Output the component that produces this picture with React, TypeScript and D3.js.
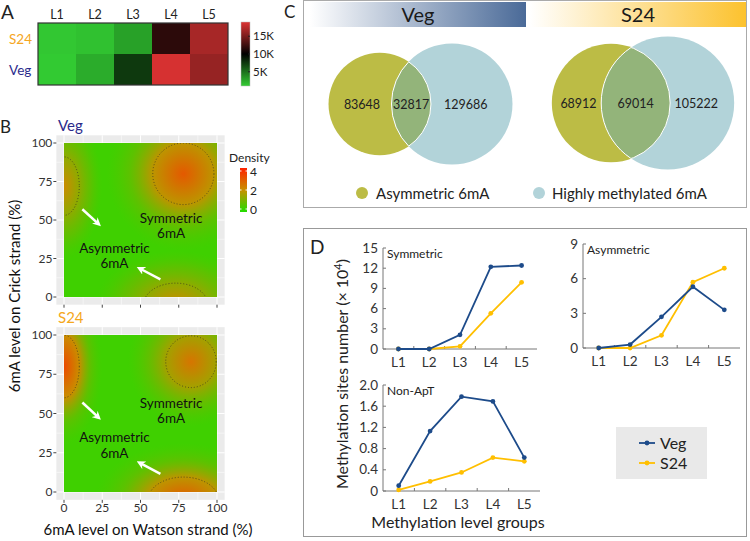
import * as d3 from 'd3';
import { useEffect, useRef } from 'react';

const FONT = 'Lato, "Open Sans", sans-serif';

// ---- A: heatmap of site counts
const levels = ['L1', 'L2', 'L3', 'L4', 'L5'];
const heatRows = ['S24', 'Veg'];
const heatS24 = [1200, 1500, 2900, 11800, 16800];
const heatVeg = [1100, 2400, 7500, 18700, 16100];
const heatTicks = [5000, 10000, 15000];

// ---- B: density hotspots (data units: % Watson, % Crick)
const strandTicks = [0, 25, 50, 75, 100];
const densityTicks = [0, 2, 4];
const vegHotspots = [
    { x: 78, y: 80, rx: 20, ry: 20, peak: 3.0 },
    { x: 0, y: 72, rx: 10, ry: 19, peak: 2.1 },
    { x: 73, y: -5, rx: 21, ry: 14, peak: 2.1 },
];
const s24Hotspots = [
    { x: 83, y: 83, rx: 16.5, ry: 16.5, peak: 2.5 },
    { x: 0, y: 80, rx: 10, ry: 20, peak: 3.3 },
    { x: 78, y: -5, rx: 23, ry: 14.5, peak: 3.0 },
];

// ---- C: Venn counts [asymmetric only, both, highly methylated only]
const vennSets = ['Asymmetric 6mA', 'Highly methylated 6mA'];
const vegVenn = [83648, 32817, 129686];
const s24Venn = [68912, 69014, 105222];

// ---- D: methylation sites (x 10^4)
const symVeg = [0, 0, 2.1, 12.2, 12.4];
const symS24 = [0, 0, 0.4, 5.3, 9.9];
const symTicks = [0, 3, 6, 9, 12, 15];
const asymVeg = [0, 0.3, 2.7, 5.3, 3.3];
const asymS24 = [0, 0, 1.1, 5.7, 6.9];
const asymTicks = [0, 3, 6, 9];
const nonVeg = [0.1, 1.13, 1.78, 1.69, 0.63];
const nonS24 = [0.02, 0.18, 0.35, 0.63, 0.56];
const nonTicks = [0, 0.4, 0.8, 1.2, 1.6, 2.0];

const VEG = '#1d4b8a';
const S24 = '#ffbf00';

type Hot = { x: number; y: number; rx: number; ry: number; peak: number };
type Sel = d3.Selection<SVGGElement, unknown, null, undefined>;

const lensArea = (r1: number, r2: number, d: number) => {
    if (d >= r1 + r2) return 0;
    if (d <= Math.abs(r1 - r2)) return Math.PI * Math.min(r1, r2) ** 2;
    const a1 = Math.acos((d * d + r1 * r1 - r2 * r2) / (2 * d * r1));
    const a2 = Math.acos((d * d + r2 * r2 - r1 * r1) / (2 * d * r2));
    const k = Math.sqrt((-d + r1 + r2) * (d + r1 - r2) * (d - r1 + r2) * (d + r1 + r2));
    return r1 * r1 * a1 + r2 * r2 * a2 - k / 2;
};

export default function App() {
    const svgRef = useRef<SVGSVGElement | null>(null);

    useEffect(() => {
        if (!svgRef.current) return;
        const svg = d3.select(svgRef.current);
        svg.selectAll('*').remove();
        const root = svg.append('g').attr('font-family', FONT) as unknown as Sel;
        const defs = svg.append('defs');

        const txt = (g: Sel, x: number, y: number, s: string, size: number, anchor = 'start', fill = '#222') =>
            g.append('text').attr('x', x).attr('y', y).attr('font-size', size)
                .attr('text-anchor', anchor).attr('fill', fill).text(s);

        // ================= A =================
        txt(root, 1, 19, 'A', 19);
        const hx = d3.scaleBand().domain(levels).range([38, 228]);
        const hy = d3.scaleBand().domain(heatRows).range([23, 85]);
        const heatColor = d3.scaleLinear<string>()
            .domain([1000, 10000, 19000]).range(['#33cc33', '#000000', '#dd3333']).clamp(true);
        const cells = [heatS24, heatVeg];
        heatRows.forEach((row, ri) => {
            levels.forEach((l, ci) => {
                root.append('rect').attr('x', hx(l)!).attr('y', hy(row)!)
                    .attr('width', hx.bandwidth()).attr('height', hy.bandwidth())
                    .attr('fill', heatColor(cells[ri][ci]));
            });
            txt(root, 9, hy(row)! + hy.bandwidth() / 2 + 5, row, 13.5, 'start', row === 'S24' ? '#f5a623' : '#2b2b8c');
        });
        root.append('rect').attr('x', 38).attr('y', 23).attr('width', 190).attr('height', 62)
            .attr('fill', 'none').attr('stroke', '#333').attr('stroke-width', 1.2);
        levels.forEach(l => txt(root, hx(l)! + hx.bandwidth() / 2, 19, l, 12.5, 'middle'));

        const cbY = d3.scaleLinear().domain([1000, 19000]).range([86, 22]);
        const cbGrad = defs.append('linearGradient').attr('id', 'cbar')
            .attr('x1', 0).attr('y1', 1).attr('x2', 0).attr('y2', 0);
        [1000, 10000, 19000].forEach((v, i) => cbGrad.append('stop').attr('offset', i / 2).attr('stop-color', heatColor(v)));
        root.append('rect').attr('x', 241).attr('y', 22).attr('width', 9).attr('height', 64)
            .attr('fill', 'url(#cbar)').attr('stroke', '#bbb').attr('stroke-width', 0.5);
        heatTicks.forEach(t => {
            root.append('line').attr('x1', 248).attr('x2', 250).attr('y1', cbY(t)).attr('y2', cbY(t)).attr('stroke', '#222');
            txt(root, 253, cbY(t) + 4, `${t / 1000}K`, 11.5);
        });

        // ================= B =================
        txt(root, 0, 133, 'B', 17);
        const dens = d3.scaleLinear<string>().domain([0, 2, 4]).range(['#22dd00', '#c89000', '#ff2200']);

        const arrow = defs.append('marker').attr('id', 'arrW').attr('viewBox', '0 0 10 10')
            .attr('refX', 6).attr('refY', 5).attr('markerWidth', 3.4).attr('markerHeight', 3.4).attr('orient', 'auto');
        arrow.append('path').attr('d', 'M0,0 L10,5 L0,10 L3,5 z').attr('fill', 'white');

        const drawDensity = (id: string, hots: Hot[], title: string, titleColor: string,
            yTop: number, yBottom: number, showX: boolean, symY: number, asymY: number) => {
            const x = d3.scaleLinear().domain([0, 100]).range([64, 217]);
            const y = d3.scaleLinear().domain([0, 100]).range([yBottom, yTop]);
            const ex = 153 * 0.05, ey = (yBottom - yTop) * 0.05;
            const g = root.append('g');
            g.append('rect').attr('x', 64 - ex).attr('y', yTop - ey)
                .attr('width', 153 + 2 * ex).attr('height', yBottom - yTop + 2 * ey).attr('fill', '#ebebeb');
            [12.5, 37.5, 62.5, 87.5].forEach(v => {
                g.append('line').attr('x1', x(v)).attr('x2', x(v)).attr('y1', yTop - ey).attr('y2', yBottom + ey).attr('stroke', '#fff').attr('stroke-width', 0.5);
                g.append('line').attr('y1', y(v)).attr('y2', y(v)).attr('x1', 64 - ex).attr('x2', 217 + ex).attr('stroke', '#fff').attr('stroke-width', 0.5);
            });
            strandTicks.forEach(v => {
                g.append('line').attr('x1', x(v)).attr('x2', x(v)).attr('y1', yTop - ey).attr('y2', yBottom + ey).attr('stroke', '#fff');
                g.append('line').attr('y1', y(v)).attr('y2', y(v)).attr('x1', 64 - ex).attr('x2', 217 + ex).attr('stroke', '#fff');
                g.append('line').attr('x1', 64 - ex - 3).attr('x2', 64 - ex).attr('y1', y(v)).attr('y2', y(v)).attr('stroke', '#444');
                txt(g, 64 - ex - 4, y(v) + 4, String(v), 12, 'end', '#333');
                g.append('line').attr('x1', x(v)).attr('x2', x(v)).attr('y1', yBottom + ey).attr('y2', yBottom + ey + 3).attr('stroke', '#444');
                if (showX) txt(g, x(v), yBottom + ey + 12, String(v), 12, 'middle', '#333');
            });

            defs.append('clipPath').attr('id', `clip-${id}`).append('rect')
                .attr('x', 64).attr('y', yTop).attr('width', 153).attr('height', yBottom - yTop);
            const area = g.append('g').attr('clip-path', `url(#clip-${id})`);
            area.append('rect').attr('x', 64).attr('y', yTop).attr('width', 153).attr('height', yBottom - yTop)
                .attr('fill', dens(0.35));
            hots.forEach((h, i) => {
                const gid = `hs-${id}-${i}`;
                const grad = defs.append('radialGradient').attr('id', gid);
                grad.append('stop').attr('offset', 0).attr('stop-color', dens(h.peak)).attr('stop-opacity', 1);
                grad.append('stop').attr('offset', 0.4).attr('stop-color', dens(h.peak * 0.62)).attr('stop-opacity', 1);
                grad.append('stop').attr('offset', 0.7).attr('stop-color', dens(0.95)).attr('stop-opacity', 0.6);
                grad.append('stop').attr('offset', 1).attr('stop-color', dens(0.6)).attr('stop-opacity', 0);
                const rx = x(h.rx) - x(0), ry = y(0) - y(h.ry);
                area.append('ellipse').attr('cx', x(h.x)).attr('cy', y(h.y))
                    .attr('rx', rx * 2.5).attr('ry', ry * 2.5).attr('fill', `url(#${gid})`);
            });
            hots.forEach(h => {
                area.append('ellipse').attr('cx', x(h.x)).attr('cy', y(h.y))
                    .attr('rx', x(h.rx) - x(0)).attr('ry', y(0) - y(h.ry))
                    .attr('fill', 'none').attr('stroke', '#3a3a20').attr('stroke-width', 0.8)
                    .attr('stroke-dasharray', '1,2');
            });

            const lines: [string, number, number][] = [
                ['Symmetric', 70, symY], ['6mA', 70, symY - 10], ['Asymmetric', 33, asymY], ['6mA', 33, asymY - 10],
            ];
            lines.forEach(([s, vx, vy]) => txt(g, x(vx), y(vy) + 5, s, 13.5, 'middle', '#111'));
            const arrows = [[12, 57, 22.5, 47.5], [63, 11.5, 49.5, 18.5]];
            arrows.forEach(([x1, y1, x2, y2]) => {
                g.append('line').attr('x1', x(x1)).attr('y1', y(y1)).attr('x2', x(x2)).attr('y2', y(y2))
                    .attr('stroke', 'white').attr('stroke-width', 2.5).attr('marker-end', 'url(#arrW)');
            });

            txt(root, 58, yTop - 12, title, 15, 'start', titleColor);
        };
        drawDensity('veg', vegHotspots, 'Veg', '#2b2b8c', 143, 297, false, 51.5, 32);
        drawDensity('s24', s24Hotspots, 'S24', '#f5a81c', 335, 492, true, 57, 35);

        // density legend
        txt(root, 229, 162, 'Density', 12, 'start', '#222');
        const dy = d3.scaleLinear().domain([0, 4]).range([209, 171]);
        const dGrad = defs.append('linearGradient').attr('id', 'dbar')
            .attr('x1', 0).attr('y1', 1).attr('x2', 0).attr('y2', 0);
        densityTicks.forEach((v, i) => dGrad.append('stop').attr('offset', i / 2).attr('stop-color', dens(v)));
        root.append('rect').attr('x', 240).attr('y', dy(4) - 3).attr('width', 7).attr('height', dy(0) - dy(4) + 6)
            .attr('fill', 'url(#dbar)');
        densityTicks.forEach(v => {
            root.append('line').attr('x1', 240).attr('x2', 241.5).attr('y1', dy(v)).attr('y2', dy(v)).attr('stroke', '#fff');
            root.append('line').attr('x1', 245.5).attr('x2', 247).attr('y1', dy(v)).attr('y2', dy(v)).attr('stroke', '#fff');
            txt(root, 250, dy(v) + 4.5, String(v), 12, 'start', '#222');
        });

        txt(root, 148, 535, '6mA level on Watson strand (%)', 15, 'middle', '#111');
        root.append('text').attr('transform', 'translate(20,296) rotate(-90)').attr('text-anchor', 'middle')
            .attr('font-size', 15).attr('fill', '#111').text('6mA level on Crick strand (%)');

        // ================= C =================
        txt(root, 284, 18, 'C', 17);
        root.append('rect').attr('x', 303.5).attr('y', 0.5).attr('width', 443).attr('height', 207)
            .attr('fill', 'none').attr('stroke', '#aaa');
        const banners: [string, number, number, string][] = [['Veg', 310, 526, '#4a6a98'], ['S24', 530, 746, '#fcc22e']];
        banners.forEach(([name, x0, x1, c]) => {
            const gr = defs.append('linearGradient').attr('id', `ban-${name}`);
            gr.append('stop').attr('offset', 0).attr('stop-color', '#fff');
            gr.append('stop').attr('offset', 1).attr('stop-color', c);
            root.append('rect').attr('x', x0).attr('y', 2).attr('width', x1 - x0).attr('height', 25).attr('fill', `url(#ban-${name})`);
            txt(root, (x0 + x1) / 2, 22, name, 20, 'middle', '#1a1a1a');
        });

        const drawVenn = (id: string, vals: number[], cx: number, cy: number, rMax: number) => {
            const [a, ab, b] = vals;
            const totA = a + ab, totB = b + ab;
            const r = d3.scaleSqrt().domain([0, Math.max(totA, totB)]).range([0, rMax]);
            const r1 = r(totA), r2 = r(totB);
            const target = Math.PI * r1 * r1 * ab / totA;
            let lo = Math.abs(r1 - r2), hi = r1 + r2;
            for (let i = 0; i < 60; i++) {
                const mid = (lo + hi) / 2;
                if (lensArea(r1, r2, mid) > target) lo = mid; else hi = mid;
            }
            const d = (lo + hi) / 2;
            const c1 = cx - (r1 + d + r2) / 2 + r1;
            const c2 = c1 + d;
            root.append('circle').attr('cx', c1).attr('cy', cy).attr('r', r1).attr('fill', '#bcbc45');
            root.append('circle').attr('cx', c2).attr('cy', cy).attr('r', r2).attr('fill', '#b2d3d9');
            defs.append('clipPath').attr('id', `vc-${id}`).append('circle').attr('cx', c1).attr('cy', cy).attr('r', r1);
            defs.append('clipPath').attr('id', `vc2-${id}`).append('circle').attr('cx', c2).attr('cy', cy).attr('r', r2);
            root.append('circle').attr('cx', c2).attr('cy', cy).attr('r', r2).attr('fill', '#93b47a')
                .attr('stroke', '#fff').attr('stroke-width', 1).attr('clip-path', `url(#vc-${id})`);
            root.append('circle').attr('cx', c1).attr('cy', cy).attr('r', r1).attr('fill', 'none')
                .attr('stroke', '#fff').attr('stroke-width', 1).attr('clip-path', `url(#vc2-${id})`);
            const lensL = c2 - r2, lensR = c1 + r1;
            txt(root, (c1 - r1 + lensL) / 2 + 2, cy + 5, String(a), 12.5, 'middle');
            txt(root, (lensL + lensR) / 2, cy + 5, String(ab), 12.5, 'middle');
            txt(root, (lensR + c2 + r2) / 2 - 6, cy + 5, String(b), 12.5, 'middle');
        };
        drawVenn('veg', vegVenn, 420.5, 104, 60.5);
        drawVenn('s24', s24Venn, 643, 103, 66.5);

        [['#bcbc45', 362, 376], ['#b2d3d9', 539, 552]].forEach(([c, cxp, tx], i) => {
            root.append('circle').attr('cx', cxp as number).attr('cy', 193).attr('r', 6).attr('fill', c as string);
            txt(root, tx as number, 198.5, vennSets[i], 15, 'start', '#222');
        });

        // ================= D =================
        root.append('rect').attr('x', 303.5).attr('y', 228.5).attr('width', 443).attr('height', 308)
            .attr('fill', 'none').attr('stroke', '#999');
        txt(root, 310, 254, 'D', 19);

        const drawLines = (x0: number, x1: number, yB: number, yT: number, ticks: number[],
            veg: number[], s24: number[], title: string) => {
            const g = root.append('g');
            const x = d3.scalePoint().domain(levels).range([x0, x1]).padding(0.5);
            const band = d3.scaleBand().domain(levels).range([x0, x1]);
            const y = d3.scaleLinear().domain([0, ticks[ticks.length - 1]]).range([yB, yT]);
            g.append('line').attr('x1', x0).attr('x2', x0).attr('y1', yB).attr('y2', yT).attr('stroke', '#777');
            g.append('line').attr('x1', x0).attr('x2', x1).attr('y1', yB).attr('y2', yB).attr('stroke', '#777');
            ticks.forEach(t => {
                g.append('line').attr('x1', x0).attr('x2', x0 + 3).attr('y1', y(t)).attr('y2', y(t)).attr('stroke', '#777');
                txt(g, x0 - 5, y(t) + 4.5, d3.format(ticks[1] < 1 ? '.1f' : 'd')(t).replace(/^0\.0$/, '0'), 13.5, 'end', '#333');
            });
            levels.forEach((l, i) => {
                if (i > 0) g.append('line').attr('x1', band(l)!).attr('x2', band(l)!).attr('y1', yB).attr('y2', yB - 3).attr('stroke', '#777');
                txt(g, x(l)!, yB + 18, l, 13.5, 'middle', '#333');
            });
            const line = d3.line<number>().x((_, i) => x(levels[i])!).y(v => y(v));
            ([[s24, S24], [veg, VEG]] as [number[], string][]).forEach(([vals, c]) => {
                g.append('path').datum(vals).attr('d', line).attr('fill', 'none').attr('stroke', c).attr('stroke-width', 1.8);
                vals.forEach((v, i) => g.append('circle').attr('cx', x(levels[i])!).attr('cy', y(v)).attr('r', 2.4).attr('fill', c));
            });
            txt(g, x0 + 4, yT + 10, title, 12, 'start', '#222');
        };
        drawLines(383, 537, 349, 248, symTicks, symVeg, symS24, 'Symmetric');
        drawLines(583, 740, 348, 244, asymTicks, asymVeg, asymS24, 'Asymmetric');
        drawLines(383, 540, 491, 385, nonTicks, nonVeg, nonS24, 'Non-ApT');

        root.append('rect').attr('x', 616).attr('y', 427).attr('width', 91).attr('height', 52).attr('fill', '#e9e9e9');
        ([['Veg', VEG, 443], ['S24', S24, 463]] as [string, string, number][]).forEach(([n, c, yy]) => {
            root.append('line').attr('x1', 639).attr('x2', 655).attr('y1', yy).attr('y2', yy).attr('stroke', c).attr('stroke-width', 1.8);
            root.append('circle').attr('cx', 647).attr('cy', yy).attr('r', 2.4).attr('fill', c);
            txt(root, 660, yy + 5.5, n, 16, 'start', '#222');
        });

        const yl = root.append('text').attr('transform', 'translate(348,374) rotate(-90)').attr('text-anchor', 'middle')
            .attr('font-size', 16).attr('fill', '#222');
        yl.append('tspan').text('Methylation sites number (× 10');
        yl.append('tspan').attr('font-size', 11).attr('dy', -6).text('4');
        yl.append('tspan').attr('dy', 6).text(')');
        txt(root, 458, 528, 'Methylation level groups', 16, 'middle', '#222');
    }, []);

    return (
        <svg ref={svgRef} width={750} height={541}
            style={{ position: 'absolute', left: 0, top: 0, background: '#fff' }} />
    );
}
